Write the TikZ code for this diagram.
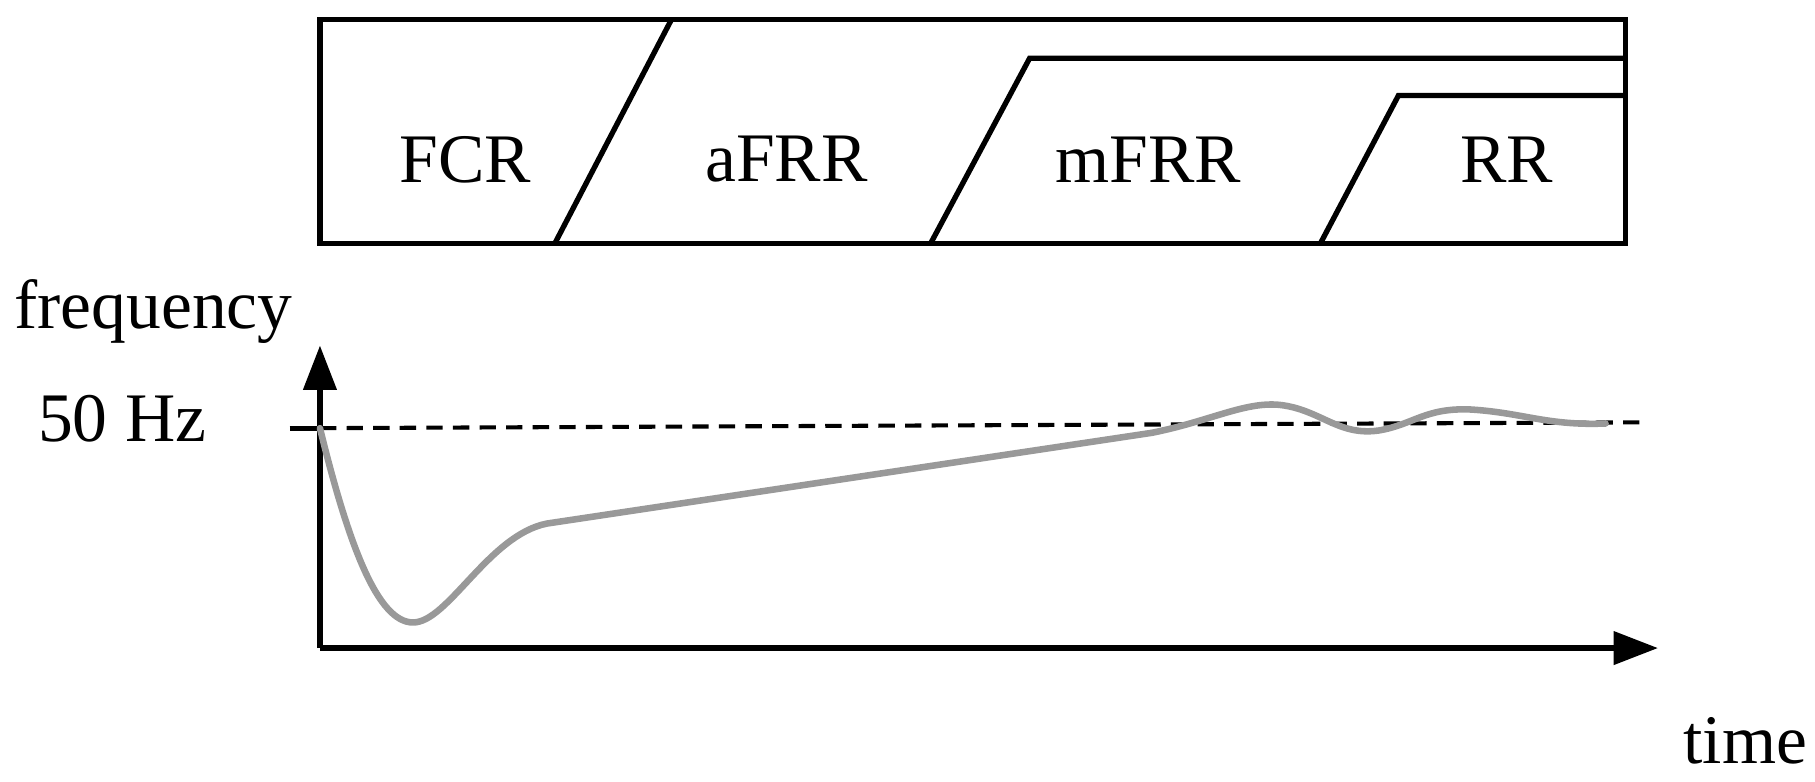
\documentclass[tikz,border=0pt]{standalone}
\usepackage{fontspec}
\setmainfont{Liberation Serif}
\usetikzlibrary{arrows.meta}
\begin{document}
\begin{tikzpicture}[x=0.01cm,y=-0.01cm,
  lbl/.style={font=\fontsize{17}{19}\selectfont, inner sep=0pt},
  box/.style={line width=1.3pt, line join=miter},
  axis/.style={line width=1.3pt, -{Triangle[length=0.38cm,width=0.28cm]}},
  resp/.style={line width=1.6pt, color=black!40, line cap=round}]
\useasboundingbox (0,0) rectangle (1560,672);
\draw[box] (275,17) rectangle (1397,209);
\draw[box] (477,209) -- (577,17);
\draw[box] (800,209) -- (885,50) -- (1397,50);
\draw[box] (1135,209) -- (1202,82) -- (1397,82);
\node[lbl] (fcr) at (400,137) {FCR};
\node[lbl] (afrr) at (676,137) {aFRR};
\node[lbl] (mfrr) at (987,137) {mFRR};
\node[lbl] (rr) at (1295,137) {RR};
\coordinate (o) at (275,557);
\coordinate (ytip) at (275,297);
\coordinate (xtip) at (1425,557);
\draw[axis] (o) -- (ytip);
\draw[axis] (o) -- (xtip);
\node[lbl] (freq) at (132,268) {frequency};
\node[lbl] (hz) at (105,360) {50 Hz};
\node[lbl] (time) at (1500,637) {time};
\draw[line width=1.3pt] (249,368) -- (275,368);
\draw[line width=1pt, dashed, dash pattern=on 4pt off 2.5pt] (275,368) -- (1410,363);
\draw[resp] (275,368) .. controls (300,470) and (325,535) .. (355,535)
  .. controls (385,535) and (420,460) .. (470,450)
  -- (990,372) .. controls (1040,362) and (1070,345) .. (1100,348)
  .. controls (1135,352) and (1150,375) .. (1185,370)
  .. controls (1215,365) and (1225,350) .. (1265,352)
  .. controls (1310,355) and (1330,366) .. (1380,364);
\end{tikzpicture}
\end{document}
